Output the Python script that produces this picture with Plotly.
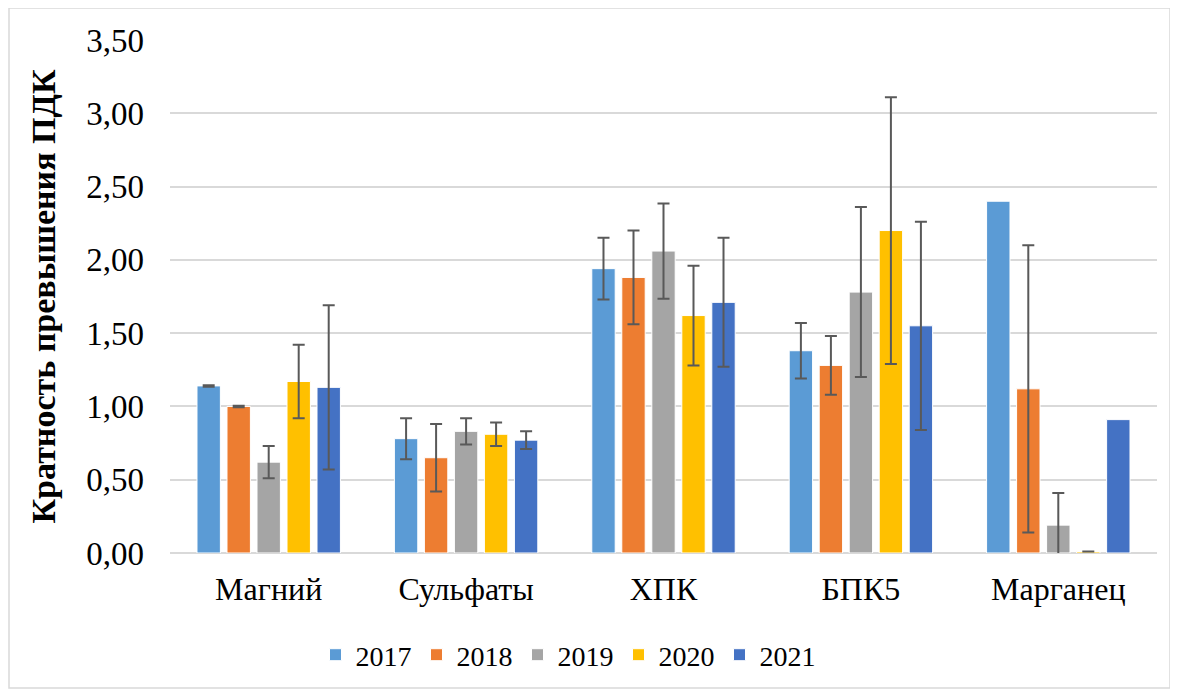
import plotly.graph_objects as go

# Кратность превышения ПДК по показателям, 2017-2021
categories = ["Магний", "Сульфаты", "ХПК", "БПК5", "Марганец"]
years = ["2017", "2018", "2019", "2020", "2021"]

values_2017 = [1.14, 0.78, 1.94, 1.38, 2.40]
values_2018 = [1.00, 0.65, 1.88, 1.28, 1.12]
values_2019 = [0.62, 0.83, 2.06, 1.78, 0.19]
values_2020 = [1.17, 0.81, 1.62, 2.20, 0.01]
values_2021 = [1.13, 0.77, 1.71, 1.55, 0.91]

# для Марганца в 2017 и 2021 погрешность не указана
errors_2017 = [0.005, 0.14, 0.21, 0.19]
errors_2018 = [0.005, 0.23, 0.32, 0.20, 0.98]
errors_2019 = [0.11, 0.09, 0.325, 0.58, 0.22]
errors_2020 = [0.25, 0.08, 0.34, 0.91, 0.0]
errors_2021 = [0.56, 0.06, 0.44, 0.71]

series_values = [values_2017, values_2018, values_2019, values_2020, values_2021]
series_errors = [errors_2017, errors_2018, errors_2019, errors_2020, errors_2021]

COLORS = ["#5B9BD5", "#ED7D31", "#A5A5A5", "#FFC000", "#4472C4"]
FONT = "'Liberation Serif', 'Times New Roman', Times, serif"

W, H = 1178, 691
# страница сдвинута на 8px (отступ body), поэтому поля чуть меньше
M = dict(l=162, r=29, t=32, b=146)

fig = go.Figure()
for year, vals, errs, color in zip(years, series_values, series_errors, COLORS):
    fig.add_trace(go.Bar(
        name=year, x=categories, y=vals,
        marker=dict(color=color, line=dict(color="white", width=1)),
        error_y=dict(type="data", array=errs, visible=True,
                     color="#595959", thickness=2, width=6),
    ))

pw = W - M["l"] - M["r"]
ph = H - M["t"] - M["b"]

fig.update_layout(
    width=W, height=H,
    margin=M,
    paper_bgcolor="white", plot_bgcolor="white",
    barmode="group", bargap=0.24, bargroupgap=0.22,
    separators=", ",
    font=dict(family=FONT, color="#000000", size=28),
    legend=dict(orientation="h", x=(560 - M["l"]) / pw, xanchor="center",
                y=-(647 - (H - M["b"])) / ph, yanchor="middle",
                font=dict(size=28, family=FONT), traceorder="normal"),
    xaxis=dict(showgrid=False, showline=False, ticks="", ticklabelstandoff=14,
               tickfont=dict(size=32, family=FONT)),
    yaxis=dict(range=[0, 3.5], dtick=0.5, tickformat=".2f",
               showgrid=True, gridcolor="#D9D9D9", gridwidth=1.5,
               zeroline=True, zerolinecolor="#D9D9D9", zerolinewidth=1.5,
               showline=False, ticks="", ticklabelstandoff=25,
               tickfont=dict(size=33, family=FONT),
               title=dict(text="<b>Кратность превышения ПДК</b>",
                          font=dict(size=34, family=FONT), standoff=20)),
)

# светло-серая рамка вокруг всей диаграммы
fig.add_shape(type="rect", xref="paper", yref="paper",
              x0=(1 - M["l"]) / pw, x1=(1162 - M["l"]) / pw,
              y0=(H - 680 - M["b"]) / ph, y1=(H - 0 - M["b"]) / ph,
              line=dict(color="#D9D9D9", width=1.5), layer="below")

fig.write_html("out.html")
